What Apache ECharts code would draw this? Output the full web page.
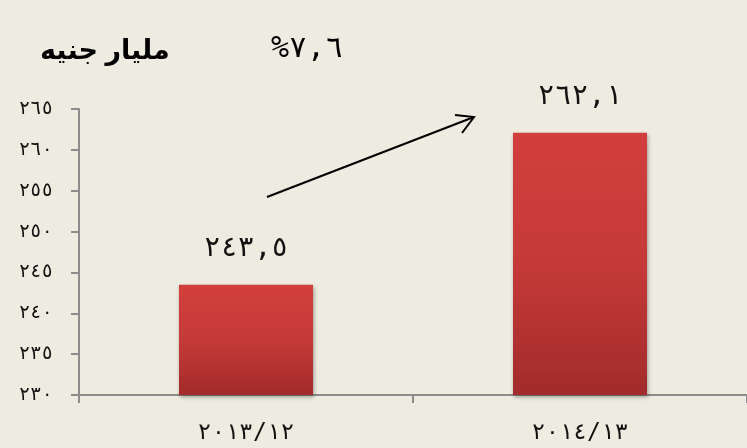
<!DOCTYPE html>
<html><head><meta charset="utf-8">
<script src="https://cdn.jsdelivr.net/npm/echarts@6/dist/echarts.min.js"></script>
<style>html,body{margin:0;padding:0;background:#EEEBE0}#c{width:747px;height:448px}</style>
</head><body><div id="c"></div>
<script>
const categories = ['٢٠١٣/١٢', '٢٠١٤/١٣'];
const values = [243.5, 262.1];
const valueLabels = ['٢٤٣,٥', '٢٦٢,١'];
const yTickValues = [230, 235, 240, 245, 250, 255, 260, 265];
const yTickLabels = ['٢٣٠', '٢٣٥', '٢٤٠', '٢٤٥', '٢٥٠', '٢٥٥', '٢٦٠', '٢٦٥'];
const unitTitle = 'مليار جنيه';
const growthText = '%٧,٦';

const chart = echarts.init(document.getElementById('c'), null, {renderer: 'canvas'});
const digitFont = '"DejaVu Sans Mono","DejaVu Sans",serif';
const axisColor = '#8C8C8C';
chart.setOption({
  backgroundColor: '#EEEBE0',
  animation: false,
  grid: {left: 79, top: 109, width: 672, height: 286, containLabel: false},
  xAxis: {
    type: 'category', data: categories, boundaryGap: true,
    axisLine: {lineStyle: {color: axisColor, width: 2}},
    axisTick: {show: true, length: 8, lineStyle: {color: axisColor, width: 2}},
    axisLabel: {fontSize: 23, color: '#111', fontFamily: digitFont, margin: 27}
  },
  yAxis: {
    type: 'value', min: 230, max: 265, interval: 5,
    axisLine: {show: true, lineStyle: {color: axisColor, width: 2}},
    axisTick: {show: true, length: 8, lineStyle: {color: axisColor, width: 2}},
    splitLine: {show: false},
    axisLabel: {fontSize: 19, color: '#111', fontFamily: digitFont, margin: 26,
      formatter: v => { const i = yTickValues.indexOf(v); return i >= 0 ? yTickLabels[i] : ''; }}
  },
  series: [{
    type: 'bar', data: values, barWidth: 134,
    itemStyle: {
      color: new echarts.graphic.LinearGradient(0, 0, 0, 1, [
        {offset: 0, color: '#D13F3C'}, {offset: 0.5, color: '#C53A38'}, {offset: 1, color: '#A22B2B'}]),
      shadowBlur: 4, shadowOffsetY: 2, shadowOffsetX: 1, shadowColor: 'rgba(0,0,0,0.35)'
    },
    label: {show: true, position: 'top', distance: 22, fontSize: 28, color: '#111', fontFamily: digitFont,
      formatter: p => valueLabels[p.dataIndex]}
  }],
  graphic: [
    {type: 'text', left: 40, top: 38, style: {text: unitTitle, font: 'bold 27px Arial, "Liberation Sans", "DejaVu Sans", sans-serif', fill: '#000'}},
    {type: 'text', left: 271, top: 34, style: {text: growthText, font: '30px "DejaVu Sans Mono","DejaVu Sans",serif', fill: '#000'}},
    {type: 'line', shape: {x1: 267, y1: 197, x2: 474, y2: 117}, style: {stroke: '#000', lineWidth: 2}},
    {type: 'polyline', shape: {points: [[455, 115], [474, 117], [462, 133]]}, style: {stroke: '#000', lineWidth: 2, fill: null}}
  ]
});
</script></body></html>
